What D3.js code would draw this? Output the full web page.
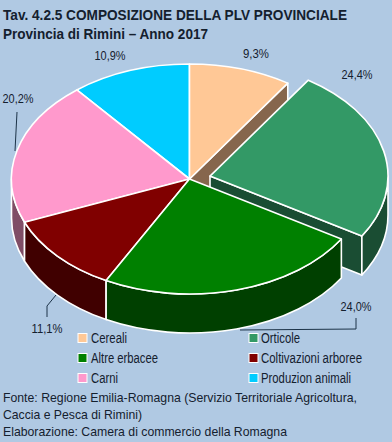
<!DOCTYPE html>
<html>
<head>
<meta charset="utf-8">
<script src="https://cdn.jsdelivr.net/npm/d3@7"></script>
<style>
  html, body { margin: 0; padding: 0; background: #b0c9e3; }
  svg { display: block; }
  text { font-family: "Liberation Sans", Arial, sans-serif; fill: #14202e; }
</style>
</head>
<body>
<div id="chart"></div>
<script>
const categories = ["Cereali", "Orticole", "Altre erbacee", "Coltivazioni arboree", "Carni", "Produzion animali"];
const values = [9.3, 24.4, 24.0, 11.1, 20.2, 10.9];
const valueLabels = ["9,3%", "24,4%", "24,0%", "11,1%", "20,2%", "10,9%"];
const topColors = ["#ffc896", "#339966", "#008000", "#800000", "#ff99cc", "#00ccff"];
const wallColors = ["#86664d", "#1a4d33", "#004000", "#400000", "#804d66", "#006680"];
const titleLines = ["Tav. 4.2.5 COMPOSIZIONE DELLA PLV PROVINCIALE", "Provincia di Rimini – Anno 2017"];
const sourceLines = [
  "Fonte: Regione Emilia-Romagna (Servizio Territoriale Agricoltura,",
  "Caccia e Pesca di Rimini)",
  "Elaborazione: Camera di commercio della Romagna"
];

const width = 392;
const height = 442;
const rx = 178;
const ry = 115;
const depth = 39;
const cx = 189.5;
const cy = 179;
const explodedIndex = 1;
const explode = 21;

const svg = d3.select("#chart").append("svg").attr("width", width).attr("height", height);

const slices = d3.pie().sort(null).value((d) => d)(values);

// a slice is placed by its own two scales, so exploding it only moves their domain
function placed(i) {
  const mid = (slices[i].startAngle + slices[i].endAngle) / 2;
  const off = i === explodedIndex ? explode : 0;
  const ox = cx + off * Math.sin(mid);
  const oy = cy - off * Math.cos(mid) * (ry / rx);
  return {
    x: d3.scaleLinear().domain([-1, 1]).range([ox - rx, ox + rx]),
    y: d3.scaleLinear().domain([-1, 1]).range([oy - ry, oy + ry]),
    ox,
    oy,
  };
}

function pt(p, a, dy = 0) {
  return [p.x(Math.sin(a)), p.y(-Math.cos(a)) + dy];
}

function arcTo(a1, dy, p, sweep) {
  const [x, y] = pt(p, a1, dy);
  return `A${rx},${ry} 0 0 ${sweep} ${x},${y}`;
}

function topPath(i) {
  const p = placed(i);
  const s = slices[i];
  const [x0, y0] = pt(p, s.startAngle);
  const large = s.endAngle - s.startAngle > Math.PI ? 1 : 0;
  const [x1, y1] = pt(p, s.endAngle);
  return `M${p.ox},${p.oy}L${x0},${y0}A${rx},${ry} 0 ${large} 1 ${x1},${y1}Z`;
}

// outer rim, only the part on the near half of the ellipse
function wallPath(i) {
  const p = placed(i);
  const a0 = Math.max(slices[i].startAngle, Math.PI / 2);
  const a1 = Math.min(slices[i].endAngle, (3 * Math.PI) / 2);
  if (a1 <= a0) return null;
  const [x0, y0] = pt(p, a0);
  const [x1, y1] = pt(p, a1, depth);
  return `M${x0},${y0}${arcTo(a1, 0, p, 1)}L${x1},${y1}${arcTo(a0, depth, p, 0)}Z`;
}

function cutPath(i, a) {
  const p = placed(i);
  const [x, y] = pt(p, a);
  return `M${p.ox},${p.oy}L${x},${y}L${x},${y + depth}L${p.ox},${p.oy + depth}Z`;
}

const pieG = svg.append("g").attr("stroke", "#fff").attr("stroke-width", 1.6).attr("stroke-linejoin", "round");

function drawSlice(i) {
  if (i === 0) pieG.append("path").attr("d", cutPath(0, slices[0].endAngle)).attr("fill", wallColors[0]);
  if (i === explodedIndex) pieG.append("path").attr("d", cutPath(i, slices[i].endAngle)).attr("fill", wallColors[i]);
  const wall = wallPath(i);
  if (wall) pieG.append("path").attr("d", wall).attr("fill", wallColors[i]);
  pieG.append("path").attr("d", topPath(i)).attr("fill", topColors[i]);
}

// back to front
[5, 0, 1, 4, 3, 2].forEach(drawSlice);

// leader lines
const leaders = [
  [[17, 112], [15, 151]],
  [[56, 295], [47, 306], [47, 317]],
  [[356, 318], [356, 329], [240, 330]],
];
svg.append("g")
  .selectAll("path")
  .data(leaders)
  .join("path")
  .attr("d", d3.line())
  .attr("fill", "none")
  .attr("stroke", "#1c3348")
  .attr("stroke-width", 1);

const labelPos = [[256, 58], [357, 79], [356, 311], [47, 333], [18, 103], [110, 60]];
const labelWidths = [26, 31, 31, 31, 31, 31];
svg.append("g")
  .selectAll("text")
  .data(valueLabels)
  .join("text")
  .attr("x", (d, i) => labelPos[i][0])
  .attr("y", (d, i) => labelPos[i][1])
  .attr("text-anchor", "middle")
  .attr("font-size", 13)
  .attr("textLength", (d, i) => labelWidths[i])
  .attr("lengthAdjust", "spacingAndGlyphs")
  .text((d) => d);

// title
const titleWidths = [344, 205];
svg.append("g")
  .selectAll("text")
  .data(titleLines)
  .join("text")
  .attr("x", 3)
  .attr("y", (d, i) => 20 + i * 19)
  .attr("font-size", 15)
  .attr("font-weight", "bold")
  .attr("textLength", (d, i) => titleWidths[i])
  .attr("lengthAdjust", "spacingAndGlyphs")
  .text((d) => d);

// legend
const legendX = [78, 249];
const legendY = [338, 358, 378];
const legendWidths = [36, 39, 67, 101, 27, 90];
const legend = svg.append("g")
  .selectAll("g")
  .data(d3.range(categories.length))
  .join("g")
  .attr("transform", (d, i) => `translate(${legendX[i % 2]},${legendY[Math.floor(i / 2)]})`);

legend.append("rect")
  .attr("x", 0)
  .attr("y", -4.5)
  .attr("width", 9)
  .attr("height", 9)
  .attr("fill", (d) => topColors[d])
  .attr("stroke", "#fff")
  .attr("stroke-width", 1);

legend.append("text")
  .attr("x", (d) => (d % 2 ? 12 : 13))
  .attr("y", 5)
  .attr("font-size", 14)
  .attr("textLength", (d) => legendWidths[d])
  .attr("lengthAdjust", "spacingAndGlyphs")
  .text((d) => categories[d]);

// source
const sourceWidths = [354, 139, 284];
svg.append("g")
  .selectAll("text")
  .data(sourceLines)
  .join("text")
  .attr("x", 3)
  .attr("y", (d, i) => 402 + i * 17)
  .attr("font-size", 13)
  .attr("textLength", (d, i) => sourceWidths[i])
  .attr("lengthAdjust", "spacingAndGlyphs")
  .text((d) => d);
</script>
</body>
</html>
